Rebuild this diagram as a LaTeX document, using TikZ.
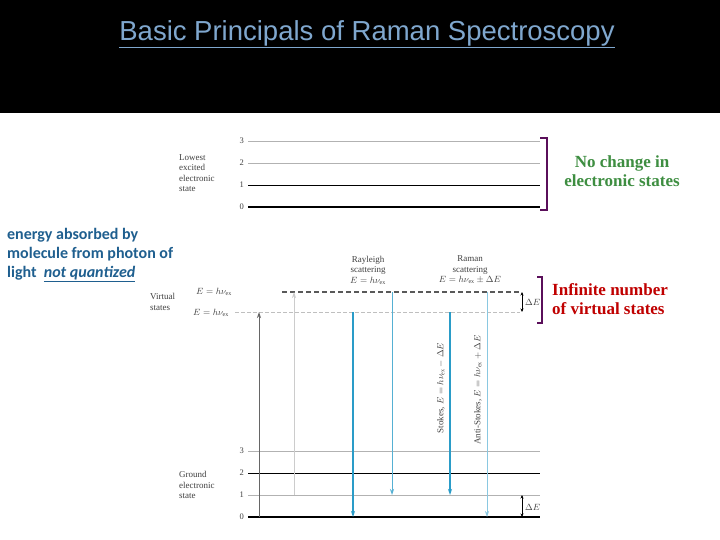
\documentclass[tikz,border=0pt]{standalone}
\usepackage{fontspec}
\setmainfont{Liberation Serif}
\newfontfamily\arialf{Liberation Sans}
\newfontfamily\calib{Carlito}
\usetikzlibrary{arrows.meta}
\definecolor{ttl}{HTML}{7FA7CE}
\definecolor{lblue}{HTML}{1F5F8F}
\definecolor{grn}{HTML}{3E8E41}
\definecolor{rd}{HTML}{C00000}
\definecolor{purp}{HTML}{5A0F5A}
\definecolor{arr}{HTML}{2A9CC8}
\begin{document}
\begin{tikzpicture}[x=1pt,y=-1pt,
  lvl/.style={line width=0.7pt},
  lvlg/.style={gray!60,line width=0.7pt},
  num/.style={font=\fontsize{8.5}{9}\selectfont,text=black!75,anchor=east,inner sep=1pt},
  side/.style={font=\fontsize{9}{10.5}\selectfont,text=black!75,align=left,anchor=west,inner sep=0pt},
  dtxt/.style={font=\fontsize{9}{10.5}\selectfont,text=black!75},
  brk/.style={purp,line width=2.4pt},
  dn/.style={arr,-{Stealth[length=6pt,width=4pt]}},
  tip/.style={-{Stealth[length=6pt,width=4pt]}}]
\useasboundingbox (0,0) rectangle (720,540);
\fill[white] (0,0) rectangle (720,540);
\fill[black] (0,0) rectangle (720,113);
\node (title) at (367,34) {\arialf\fontsize{27.5}{30}\selectfont\color{ttl}\underline{Basic Principals of Raman Spectroscopy}};
% excited state
\foreach \y/\n/\s in {141/3/lvlg,163/2/lvlg,185/1/lvl,207/0/lvl}{
  \coordinate (e\n a) at (248,\y); \coordinate (e\n b) at (540,\y);
  \draw[\s] (e\n a) -- (e\n b);
  \node[num] (en\n) at (245,\y) {\n};}
\draw[line width=1.1pt] (e0a) -- (e0b);
\node[side] (exlab) at (179,173) {Lowest\\excited\\electronic\\state};
% ground state
\foreach \y/\n/\s in {451/3/lvlg,473/2/lvl,495/1/lvlg,517/0/lvl}{
  \coordinate (g\n a) at (248,\y); \coordinate (g\n b) at (540,\y);
  \draw[\s] (g\n a) -- (g\n b);
  \node[num] (gn\n) at (245,\y) {\n};}
\draw[line width=1.1pt] (g0a) -- (g0b);
\node[side] (grlab) at (179,485) {Ground\\electronic\\state};
% virtual states
\coordinate (v1a) at (282,292); \coordinate (v1b) at (520,292);
\coordinate (v2a) at (235,312); \coordinate (v2b) at (520,312);
\draw[gray!70!black,dash pattern=on 5pt off 3pt,line width=1.3pt] (v1a) -- (v1b);
\draw[gray!50,dash pattern=on 4pt off 2pt,line width=0.9pt] (v2a) -- (v2b);
\node[side] (vlab) at (150,302) {Virtual\\states};
\node[side] (e1) at (196,292) {$E = h\nu_{\mathrm{ex}}$};
\node[side] (e2) at (193,313) {$E = h\nu_{\mathrm{ex}}$};
\node[dtxt,align=center] (ray) at (368,270) {Rayleigh\\scattering\\$E = h\nu_{\mathrm{ex}}$};
\node[dtxt,align=center] (ram) at (470,270) {Raman\\scattering\\$E = h\nu_{\mathrm{ex}}\pm\Delta E$};
% vertical transitions
\coordinate (u1a) at (259,517); \coordinate (u1b) at (259,312);
\coordinate (u2a) at (294,495); \coordinate (u2b) at (294,292);
\draw[black!60,line width=0.9pt,tip] (u1a) -- (u1b);
\draw[gray!40,line width=0.9pt,tip] (u2a) -- (u2b);
\coordinate (d1a) at (353,312); \coordinate (d1b) at (353,517);
\coordinate (d2a) at (392,292); \coordinate (d2b) at (392,495);
\coordinate (d3a) at (450,312); \coordinate (d3b) at (450,495);
\coordinate (d4a) at (487,292); \coordinate (d4b) at (487,517);
\draw[dn,line width=1.4pt] (d1a) -- (d1b);
\draw[dn,arr!80,line width=0.8pt] (d2a) -- (d2b);
\draw[dn,line width=1.1pt] (d3a) -- (d3b);
\draw[dn,arr!55,line width=0.8pt] (d4a) -- (d4b);
\node[rotate=90,dtxt] (stk) at (441,388) {Stokes, $E = h\nu_{\mathrm{ex}} - \Delta E$};
\node[rotate=90,dtxt] (ast) at (478,390) {Anti-Stokes, $E = h\nu_{\mathrm{ex}} + \Delta E$};
% delta E
\coordinate (de1a) at (522,292); \coordinate (de1b) at (522,312);
\coordinate (de2a) at (522,495); \coordinate (de2b) at (522,517);
\draw[line width=0.5pt,{Stealth[length=3.5pt,width=3pt]}-{Stealth[length=3.5pt,width=3pt]}] (de1a) -- (de1b);
\draw[line width=0.5pt,{Stealth[length=3.5pt,width=3pt]}-{Stealth[length=3.5pt,width=3pt]}] (de2a) -- (de2b);
\node[dtxt,anchor=west,inner sep=1pt] (dl1) at (524,302) {$\Delta E$};
\node[dtxt,anchor=west,inner sep=1pt] (dl2) at (524,507) {$\Delta E$};
% brackets
\draw[brk] (540,138) -- (547,138) -- (547,210) -- (540,210);
\draw[brk] (537,277) -- (542,277) -- (542,323) -- (537,323);
\node[font=\fontsize{17}{19}\selectfont\bfseries,text=grn,align=center] (nc) at (622,171) {No change in\\electronic states};
\node[font=\fontsize{17}{19}\selectfont\bfseries,text=rd,align=left,anchor=west,inner sep=0pt] (inf) at (552,299) {Infinite number\\of virtual states};
\node[font=\calib\fontsize{16}{19}\selectfont\bfseries,text=lblue,align=left,anchor=west,inner sep=0pt] (abs) at (7,255) {energy absorbed by\\molecule from photon of\\light \ \underline{\itshape not quantized}};
\end{tikzpicture}
\end{document}
